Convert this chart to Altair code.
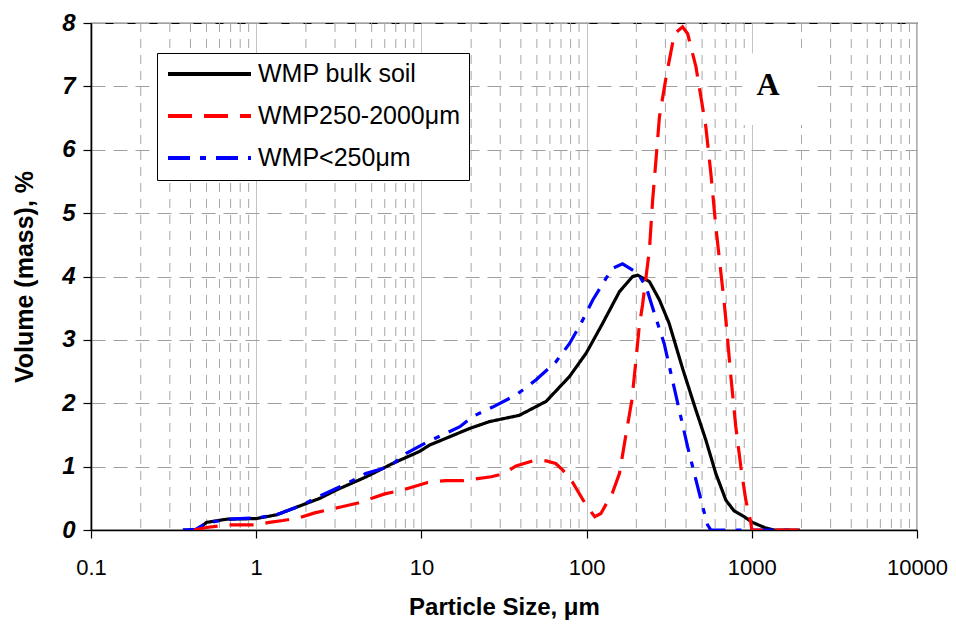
import altair as alt
import pandas as pd

# ---------------- data ----------------
series_names = ["WMP bulk soil", "WMP250-2000μm", "WMP<250μm"]

bulk_x = [0.36, 0.44, 0.5, 0.66, 1.0, 1.33, 1.6, 1.97, 2.43, 3.05, 4.64, 6.7, 9.75,
          11.2, 14.8, 19.5, 25.8, 39.2, 56.9, 78.7, 99.4, 125, 158, 190, 204, 240,
          276, 316, 381, 459, 527, 606, 697, 782, 899, 1009, 1216, 1365, 1950]
bulk_y = [0.0, 0.0, 0.12, 0.17, 0.18, 0.24, 0.32, 0.41, 0.50, 0.63, 0.84, 1.05, 1.24,
          1.34, 1.47, 1.60, 1.71, 1.81, 2.03, 2.42, 2.79, 3.26, 3.76, 4.00, 4.02, 3.92,
          3.63, 3.26, 2.55, 1.89, 1.42, 0.89, 0.47, 0.30, 0.21, 0.12, 0.03, 0.0, 0.0]

coarse_x = [0.42, 0.5, 0.67, 0.98, 1.2, 1.45, 1.8, 2.26, 3.2, 4.2, 6.0, 7.7, 10.9,
            14, 18, 26.5, 31.6, 37.4, 47, 57, 65, 71.5, 82, 99.4, 112, 122, 143, 158,
            175, 188, 199, 208, 218, 240, 251, 263, 276, 303, 340, 381, 409, 459, 527,
            565, 606, 681, 697, 747, 800, 858, 920, 986, 1000, 1950]
coarse_y = [0.0, 0.04, 0.08, 0.08, 0.12, 0.15, 0.19, 0.27, 0.36, 0.43, 0.57, 0.63, 0.75,
            0.78, 0.78, 0.84, 0.89, 1.01, 1.09, 1.09, 1.05, 0.95, 0.76, 0.39, 0.21, 0.26,
            0.58, 0.89, 1.58, 2.05, 2.68, 3.2, 3.55, 4.42, 5.2, 5.84, 6.52, 7.15, 7.83,
            7.94, 7.83, 7.31, 6.36, 5.63, 4.78, 3.58, 3.31, 2.42, 1.63, 1.0, 0.47, 0.12,
            0.0, 0.0]

fine_x = [0.36, 0.43, 0.5, 0.67, 1.0, 1.33, 1.88, 2.35, 3.4, 4.6, 6.4, 8.1, 10.9,
          17.1, 20.4, 27, 37.4, 49.5, 65, 78.7, 92.5, 109, 131, 144, 165, 204, 229,
          257, 295, 324, 364, 409, 459, 504, 540, 565, 1950]
fine_y = [0.0, 0.01, 0.11, 0.17, 0.19, 0.24, 0.39, 0.52, 0.71, 0.89, 1.0, 1.21, 1.39,
          1.63, 1.79, 1.94, 2.13, 2.37, 2.65, 2.94, 3.26, 3.63, 3.97, 4.13, 4.20, 4.05,
          3.84, 3.42, 2.94, 2.47, 1.89, 1.31, 0.79, 0.37, 0.08, 0.0, 0.0]

x_tick_values = [0.1, 1, 10, 100, 1000, 10000]
y_tick_values = [0, 1, 2, 3, 4, 5, 6, 7, 8]
minor_grid = [m * d for d in (0.1, 1, 10, 100, 1000) for m in range(2, 10)]

panel_label = ["A"]
panel_label_x = [1256]
panel_label_y = [7.02]
panel_box = {"x1": [875], "x2": [2317], "y1": [6.39], "y2": [7.52]}

# ---------------- tables ----------------
rows = []
for name, xs, ys in [(series_names[0], bulk_x, bulk_y),
                     (series_names[2], fine_x, fine_y),
                     (series_names[1], coarse_x, coarse_y)]:
    for i, (x, y) in enumerate(zip(xs, ys)):
        rows.append({"series": name, "size": x, "vol": y, "i": i})
df = pd.DataFrame(rows)

FONT = "Liberation Sans"
W, H = 826, 507
X_TITLE = "Particle Size, μm"
Y_TITLE = "Volume (mass), %"

xscale = alt.Scale(type="log", domain=[0.1, 10000], nice=False)
yscale = alt.Scale(domain=[0, 8], nice=False)

x_axis = alt.Axis(values=x_tick_values, format="~g", grid=True,
                  gridColor="#c4c4c4", gridWidth=1,
                  domainColor="black", domainWidth=1.6,
                  tickColor="black", tickSize=8, tickWidth=1.2,
                  labelFont=FONT, labelFontSize=22, labelColor="black",
                  labelPadding=19, labelFlush=False,
                  titleFont=FONT, titleFontSize=24, titleFontWeight="bold",
                  titleColor="black", titleBaseline="alphabetic",
                  titleX=W / 2, titleY=84)
y_axis = alt.Axis(values=y_tick_values, grid=True, gridColor="#a0a0a0",
                  gridDash=[14, 8], gridWidth=1,
                  domainColor="black", domainWidth=1.6,
                  tickColor="black", tickSize=8, tickWidth=1.2,
                  labelFont=FONT, labelFontSize=24, labelFontWeight="bold",
                  labelFontStyle="italic", labelColor="black",
                  labelPadding=8, labelFlush=False,
                  titleFont=FONT, titleFontSize=25, titleFontWeight="bold",
                  titleColor="black", titleAngle=270, titleAlign="center",
                  titleBaseline="middle", titleX=-67, titleY=H / 2)

legend_cfg = dict(orient="none", legendX=66, legendY=30, title=None,
                  fillColor="white", strokeColor="black", padding=9,
                  symbolType="stroke", symbolSize=6889, symbolStrokeWidth=4,
                  clipHeight=24, rowPadding=17, labelFont=FONT, labelFontSize=25,
                  labelColor="black", labelOffset=5, labelLimit=400)

minor = alt.Chart(pd.DataFrame({"v": minor_grid})).mark_rule(
    color="#a6a6a6", strokeDash=[9, 7], strokeWidth=1
).encode(x=alt.X("v:Q", scale=xscale, axis=x_axis, title=X_TITLE))

box = alt.Chart(pd.DataFrame(panel_box)).mark_rect(color="white").encode(
    x=alt.X("x1:Q", scale=xscale, axis=x_axis, title=X_TITLE), x2="x2:Q",
    y=alt.Y("y1:Q", scale=yscale, axis=y_axis, title=Y_TITLE), y2="y2:Q",
)

lines = alt.Chart(df).mark_line(strokeWidth=3.2, clip=True).encode(
    x=alt.X("size:Q", scale=xscale, axis=x_axis, title=X_TITLE),
    y=alt.Y("vol:Q", scale=yscale, axis=y_axis, title=Y_TITLE),
    color=alt.Color("series:N",
                    scale=alt.Scale(domain=series_names, range=["black", "red", "blue"]),
                    legend=alt.Legend(**legend_cfg)),
    strokeDash=alt.StrokeDash("series:N",
                              scale=alt.Scale(domain=series_names,
                                              range=[[1, 0], [24, 12], [22, 10, 6, 10]]),
                              legend=alt.Legend(**legend_cfg)),
    order="i:Q",
)

label = alt.Chart(pd.DataFrame({"t": panel_label, "x": panel_label_x, "y": panel_label_y})).mark_text(
    font="Liberation Serif", fontSize=32, fontWeight="bold", color="black",
    align="center", baseline="middle"
).encode(x=alt.X("x:Q", scale=xscale, axis=x_axis, title=X_TITLE),
         y=alt.Y("y:Q", scale=yscale, axis=y_axis, title=Y_TITLE), text="t:N")

chart = alt.layer(minor, box, lines, label).properties(
    width=W, height=H, background="white",
    autosize=alt.AutoSizeParams(type="none"),
    padding={"left": 83, "top": 15, "right": 31, "bottom": 90},
).configure_view(stroke="black", strokeWidth=1.2)

chart.save("out.html", embed_options={"renderer": "svg", "actions": False})
